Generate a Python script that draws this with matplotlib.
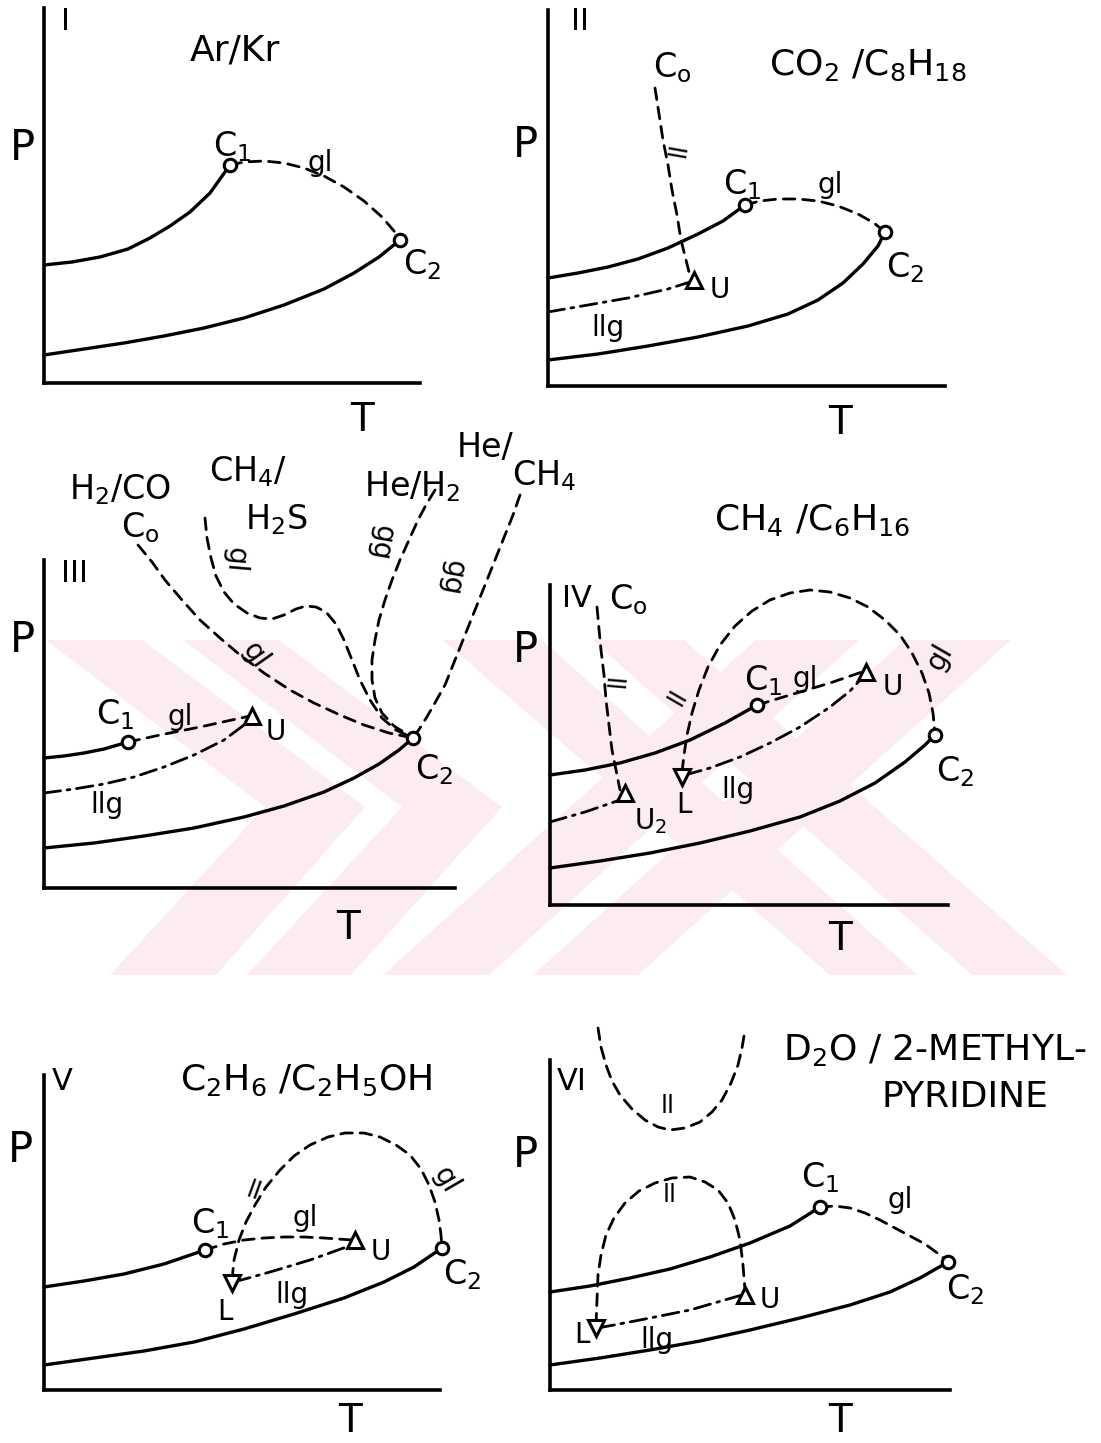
import matplotlib.pyplot as plt
from matplotlib.patches import Polygon

plt.rcParams['font.family'] = ['DejaVu Sans']
plt.rcParams['mathtext.default'] = 'regular'

W, H = 1101, 1443

# ---------------- data (T, P in schematic units, origin = axis corner) ----------------
# Panel I : Ar/Kr
I_vap1 = [(0, 118), (28, 121), (56, 126), (84, 134), (106, 145), (126, 157), (146, 171), (166, 190), (186, 218)]
I_vap2 = [(0, 28), (40, 34), (80, 40), (120, 47), (160, 55), (200, 65), (240, 78), (280, 94),
          (310, 110), (335, 126), (356, 143)]
I_gl = [(186, 218), (200, 221), (220, 222), (240, 220), (260, 215), (280, 207), (300, 196),
        (320, 182), (338, 166), (350, 152), (356, 143)]
I_crit = [(186, 218), (356, 143)]

# Panel II : CO2/C8H18
II_vap1 = [(0, 108), (30, 113), (60, 119), (90, 127), (120, 138), (150, 152), (175, 165), (197, 181)]
II_vap2 = [(0, 26), (50, 32), (100, 40), (150, 49), (200, 60), (240, 72), (270, 86), (295, 103),
           (315, 122), (330, 140), (337, 154)]
II_gl = [(197, 181), (212, 185), (230, 187), (250, 187), (270, 185), (290, 180), (310, 172), (326, 163), (337, 154)]
II_llg = [(0, 74), (40, 81), (80, 88), (120, 97), (142, 104)]
II_ll = [(107, 298), (111, 272), (115, 246), (120, 221), (124, 196), (129, 171), (133, 146), (138, 126), (142, 110)]
II_crit = [(197, 181), (337, 154)]
II_ucep = [(146, 106)]

# Panel III : several systems meeting at C2
III_vap1 = [(0, 130), (20, 132), (40, 135), (60, 139), (84, 146)]
III_vap2 = [(0, 40), (50, 45), (100, 52), (150, 60), (200, 71), (240, 82), (280, 96), (310, 110),
            (335, 124), (355, 138), (369, 150)]
III_gl = [(84, 146), (116, 153), (156, 161), (206, 172)]
III_llg = [(0, 95), (30, 99), (60, 104), (90, 111), (120, 121), (150, 133), (180, 148), (204, 166)]
III_h2co = [(94, 343), (108, 326), (121, 308), (138, 288), (156, 268), (176, 250), (196, 233), (220, 215),
            (246, 198), (270, 185), (296, 173), (320, 163), (345, 155), (369, 150)]
III_ch4h2s = [(161, 370), (163, 350), (167, 330), (172, 312), (180, 296), (190, 284), (203, 275), (216, 270),
              (228, 269), (240, 273), (252, 279), (262, 282), (272, 281), (282, 276), (292, 264), (300, 248),
              (308, 228), (316, 208), (326, 188), (338, 170), (352, 158), (369, 150)]
III_heh2 = [(391, 398), (382, 383), (374, 368), (365, 348), (356, 328), (348, 308), (341, 288), (335, 268),
            (331, 248), (328, 228), (328, 208), (331, 190), (338, 175), (350, 162), (369, 150)]
III_hech4 = [(476, 393), (469, 373), (461, 353), (451, 328), (441, 303), (431, 278), (421, 253), (411, 228),
             (401, 203), (392, 187), (384, 173), (376, 160), (369, 150)]
III_crit = [(84, 146), (369, 150)]
III_ucep = [(208, 172)]

# Panel IV : CH4/C6H16
IV_vap1 = [(0, 130), (35, 135), (70, 142), (105, 152), (140, 165), (175, 182), (207, 200)]
IV_vap2 = [(0, 37), (50, 44), (100, 52), (150, 62), (200, 74), (250, 88), (290, 104), (325, 122),
           (355, 143), (375, 160), (385, 170)]
IV_gl = [(207, 200), (240, 210), (280, 222), (312, 233)]
IV_llg = [(135, 130), (160, 137), (190, 148), (220, 162), (250, 178), (280, 198), (300, 214), (312, 227)]
IV_ll_low = [(47, 298), (49, 276), (51, 255), (54, 230), (56, 205), (59, 180), (62, 155), (66, 135), (70, 115)]
IV_llg_low = [(0, 83), (35, 93), (70, 105)]
IV_loop = [(132, 133), (134, 150), (137, 170), (142, 192), (149, 215), (158, 238), (170, 260), (185, 279),
           (202, 294), (220, 305), (240, 312), (260, 315), (280, 313), (300, 307), (318, 298), (335, 285),
           (350, 270), (362, 252), (372, 232), (379, 212), (383, 192), (385, 170)]
IV_crit = [(207, 200), (385, 170)]
IV_ucep = [(316, 233), (75, 112)]
IV_lcep = [(132, 128)]

# Panel V : C2H6/C2H5OH
V_vap1 = [(0, 103), (40, 109), (80, 116), (120, 126), (161, 140)]
V_vap2 = [(0, 25), (50, 32), (100, 39), (150, 48), (200, 61), (250, 76), (300, 92), (340, 108),
          (370, 123), (398, 142)]
V_gl = [(161, 140), (180, 146), (200, 150), (220, 152), (240, 153), (260, 153), (280, 152), (308, 150)]
V_llg = [(190, 108), (226, 118), (266, 130), (308, 145)]
V_loop = [(188, 110), (190, 130), (195, 150), (202, 168), (211, 185), (222, 203), (236, 220), (250, 234),
          (266, 245), (284, 253), (301, 257), (320, 257), (336, 253), (352, 245), (366, 235), (377, 221),
          (385, 205), (391, 188), (395, 170), (397, 155), (398, 142)]
V_crit = [(161, 140), (398, 142)]
V_ucep = [(311, 150)]
V_lcep = [(188, 107)]

# Panel VI : D2O/2-methylpyridine
VI_vap1 = [(0, 98), (40, 104), (80, 112), (120, 121), (160, 133), (200, 147), (240, 164), (270, 183)]
VI_vap2 = [(0, 25), (50, 32), (100, 40), (150, 49), (200, 60), (250, 72), (300, 85), (340, 98),
           (370, 112), (398, 128)]
VI_gl = [(270, 183), (285, 184), (300, 182), (315, 177), (330, 170), (345, 162), (360, 154),
         (375, 146), (390, 135), (398, 128)]
VI_llg = [(48, 62), (90, 70), (140, 80), (192, 95)]
VI_dome = [(46, 65), (47, 90), (48, 115), (51, 135), (56, 155), (64, 172), (75, 187), (89, 199), (105, 207),
           (122, 212), (140, 213), (155, 208), (168, 200), (178, 187), (185, 170), (190, 150), (193, 125), (195, 100)]
VI_top = [(48, 362), (51, 343), (56, 325), (62, 309), (70, 295), (82, 281), (95, 270), (108, 263), (120, 260),
          (135, 262), (150, 268), (162, 278), (172, 290), (181, 307), (188, 325), (192, 342), (195, 360)]
VI_crit = [(270, 183), (398, 128)]
VI_ucep = [(195, 95)]
VI_lcep = [(46, 62)]

# ---------------- layout: axis corner (px), axis length x, y (px) ----------------
boxes = {
    'I': (44, 383, 376, 375),
    'II': (548, 386, 397, 376),
    'III': (44, 888, 411, 328),
    'IV': (550, 905, 398, 320),
    'V': (44, 1390, 396, 315),
    'VI': (550, 1390, 400, 330),
}

SOLID = dict(lw=2.4, linestyle='-')
DASH = dict(lw=2.0, linestyle=(0, (4.2, 2.8)))
DASHDOT = dict(lw=2.0, linestyle=(0, (6, 2.4, 1, 2.4)))

fig = plt.figure(figsize=(W / 100, H / 100), dpi=100)


def px(x, y):
    return (x / W, 1 - y / H)


# faint watermark behind the drawing
wm = '#fdecef'
bands = [
    [(46, 640), (142, 640), (365, 807), (216, 975), (110, 975), (265, 807)],
    [(183, 640), (279, 640), (502, 807), (351, 975), (247, 975), (402, 807)],
    [(756, 640), (859, 640), (489, 975), (383, 975)],
    [(905, 640), (1011, 640), (638, 975), (533, 975)],
    [(443, 640), (542, 640), (918, 975), (830, 975)],
    [(592, 640), (684, 640), (1067, 975), (972, 975)],
]
for b in bands:
    fig.patches.append(Polygon([px(*p) for p in b], closed=True, transform=fig.transFigure,
                               facecolor=wm, edgecolor='none', zorder=-5))


def make_ax(key):
    x0, y0, w, h = boxes[key]
    l, b = px(x0, y0)
    ax = fig.add_axes([l, b, w / W, h / H])
    ax.set_xlim(0, w)
    ax.set_ylim(0, h)
    ax.patch.set_visible(False)
    for s in ['top', 'right']:
        ax.spines[s].set_visible(False)
    for s in ['left', 'bottom']:
        ax.spines[s].set_linewidth(2.6)
    ax.set_xticks([])
    ax.set_yticks([])
    return ax


def curve(ax, pts, style):
    t, p = zip(*pts)
    ax.plot(t, p, color='black', clip_on=False, solid_capstyle='round',
            solid_joinstyle='round', dash_capstyle='round', **style)


def marks(ax, pts, m):
    t, p = zip(*pts)
    size = 9 if m == 'o' else 12
    ax.plot(t, p, m, ms=size, mfc='white', mec='black', mew=2.2, clip_on=False, zorder=5)


def label(ax, t, p, s, size=22, rot=0):
    ax.text(t, p, s, fontsize=size, rotation=rot, ha='center', va='center', clip_on=False)


def frame(ax, num, num_pos, t_pos=None, p_pos=None):
    label(ax, *num_pos, num, size=22)
    label(ax, *p_pos, 'P', size=30)
    label(ax, *t_pos, 'T', size=28)


# ---- I ----
ax = make_ax('I')
curve(ax, I_vap1, SOLID)
curve(ax, I_vap2, SOLID)
curve(ax, I_gl, DASH)
marks(ax, I_crit, 'o')
frame(ax, 'I', (21, 361), (318, -37), (-22, 235))
label(ax, 191, 333, 'Ar/Kr', 26)
label(ax, 188, 236, 'C$_1$', 24)
label(ax, 276, 220, 'gl', 20)
label(ax, 378, 118, 'C$_2$', 24)

# ---- II ----
ax = make_ax('II')
curve(ax, II_vap1, SOLID)
curve(ax, II_vap2, SOLID)
curve(ax, II_gl, DASH)
curve(ax, II_llg, DASHDOT)
curve(ax, II_ll, DASH)
marks(ax, II_crit, 'o')
marks(ax, II_ucep, '^')
frame(ax, 'II', (32, 364), (292, -37), (-23, 241))
label(ax, 320, 321, 'CO$_2$ /C$_8$H$_{18}$', 26)
label(ax, 124, 318, 'C$_o$', 24)
label(ax, 194, 201, 'C$_1$', 24)
label(ax, 282, 201, 'gl', 20)
label(ax, 357, 118, 'C$_2$', 24)
label(ax, 172, 96, 'U', 20)
label(ax, 60, 58, 'llg', 20)
label(ax, 131, 236, 'll', 18, 80)

# ---- III ----
ax = make_ax('III')
curve(ax, III_vap1, SOLID)
curve(ax, III_vap2, SOLID)
curve(ax, III_gl, DASH)
curve(ax, III_llg, DASHDOT)
curve(ax, III_h2co, DASH)
curve(ax, III_ch4h2s, DASH)
curve(ax, III_heh2, DASH)
curve(ax, III_hech4, DASH)
marks(ax, III_crit, 'o')
marks(ax, III_ucep, '^')
frame(ax, 'III', (30, 315), (304, -40), (-22, 248))
label(ax, 76, 398, 'H$_2$/CO', 24)
label(ax, 96, 360, 'C$_o$', 24)
label(ax, 204, 416, 'CH$_4$/', 24)
label(ax, 232, 368, 'H$_2$S', 24)
label(ax, 368, 401, 'He/H$_2$', 24)
label(ax, 441, 441, 'He/', 24)
label(ax, 500, 412, 'CH$_4$', 24)
label(ax, 71, 173, 'C$_1$', 24)
label(ax, 136, 171, 'gl', 20)
label(ax, 232, 156, 'U', 20)
label(ax, 63, 83, 'llg', 20)
label(ax, 390, 118, 'C$_2$', 24)
label(ax, 211, 233, 'gl', 20, -55)
label(ax, 191, 328, 'gl', 20, -95)
label(ax, 337, 345, 'gg', 20, -100)
label(ax, 408, 310, 'gg', 20, -100)

# ---- IV ----
ax = make_ax('IV')
curve(ax, IV_vap1, SOLID)
curve(ax, IV_vap2, SOLID)
curve(ax, IV_gl, DASH)
curve(ax, IV_llg, DASHDOT)
curve(ax, IV_ll_low, DASH)
curve(ax, IV_llg_low, DASHDOT)
curve(ax, IV_loop, DASH)
marks(ax, IV_crit, 'o')
marks(ax, IV_ucep, '^')
marks(ax, IV_lcep, 'v')
frame(ax, 'IV', (27, 307), (290, -34), (-25, 255))
label(ax, 262, 385, 'CH$_4$ /C$_6$H$_{16}$', 26)
label(ax, 78, 305, 'C$_o$', 24)
label(ax, 213, 224, 'C$_1$', 24)
label(ax, 255, 226, 'gl', 20)
label(ax, 343, 218, 'U', 20)
label(ax, 188, 115, 'llg', 20)
label(ax, 134, 100, 'L', 20)
label(ax, 100, 84, 'U$_2$', 20)
label(ax, 68, 225, 'll', 18, 85)
label(ax, 128, 208, 'll', 18, 60)
label(ax, 390, 248, 'gl', 20, 60)
label(ax, 405, 133, 'C$_2$', 24)

# ---- V ----
ax = make_ax('V')
curve(ax, V_vap1, SOLID)
curve(ax, V_vap2, SOLID)
curve(ax, V_gl, DASH)
curve(ax, V_llg, DASHDOT)
curve(ax, V_loop, DASH)
marks(ax, V_crit, 'o')
marks(ax, V_ucep, '^')
marks(ax, V_lcep, 'v')
frame(ax, 'V', (18, 308), (306, -31), (-24, 240))
label(ax, 262, 310, 'C$_2$H$_6$ /C$_2$H$_5$OH', 26)
label(ax, 166, 166, 'C$_1$', 24)
label(ax, 261, 172, 'gl', 20)
label(ax, 337, 138, 'U', 20)
label(ax, 248, 95, 'llg', 20)
label(ax, 181, 78, 'L', 20)
label(ax, 418, 115, 'C$_2$', 24)
label(ax, 210, 198, 'll', 18, -20)
label(ax, 402, 210, 'gl', 20, -60)

# ---- VI ----
ax = make_ax('VI')
curve(ax, VI_vap1, SOLID)
curve(ax, VI_vap2, SOLID)
curve(ax, VI_gl, DASH)
curve(ax, VI_llg, DASHDOT)
curve(ax, VI_dome, DASH)
curve(ax, VI_top, DASH)
marks(ax, VI_crit, 'o')
marks(ax, VI_ucep, '^')
marks(ax, VI_lcep, 'v')
frame(ax, 'VI', (22, 308), (290, -31), (-25, 235))
label(ax, 385, 340, 'D$_2$O / 2-METHYL-', 26)
label(ax, 415, 293, 'PYRIDINE', 26)
label(ax, 270, 212, 'C$_1$', 24)
label(ax, 350, 190, 'gl', 20)
label(ax, 415, 100, 'C$_2$', 24)
label(ax, 220, 90, 'U', 20)
label(ax, 32, 55, 'L', 20)
label(ax, 107, 50, 'llg', 20)
label(ax, 120, 195, 'll', 18)
label(ax, 118, 284, 'll', 18)

fig.savefig('out.png', dpi=100)
